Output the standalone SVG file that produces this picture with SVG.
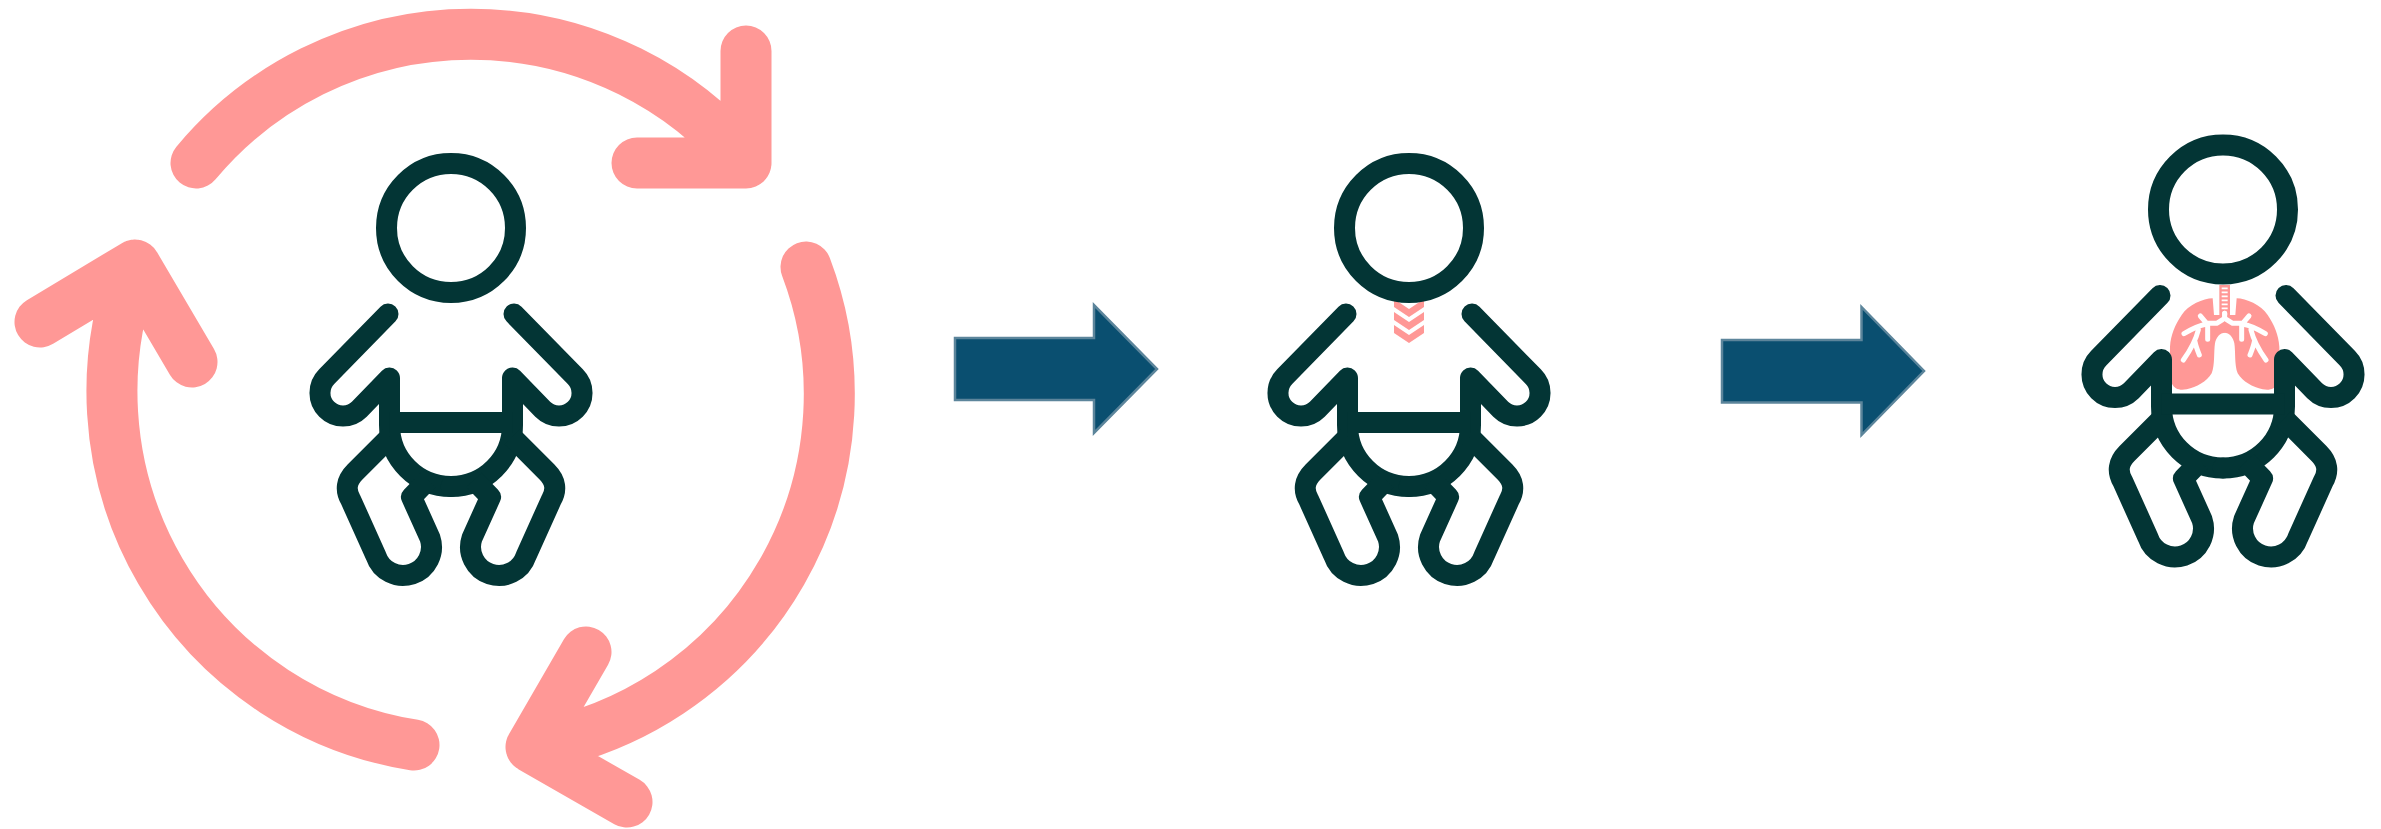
<svg xmlns="http://www.w3.org/2000/svg" width="2381" height="829" viewBox="0 0 2381 829">
<style>
.c{fill:none;stroke:#FF9896;stroke-width:51;stroke-linecap:round;stroke-linejoin:round}
.b{fill:none;stroke:#033535;stroke-width:21;stroke-linecap:round;stroke-linejoin:round}
.f{stroke-linecap:butt}
.a{fill:#0A4F70;stroke:#5C859B;stroke-width:2.5}
.p{fill:#FF9896}
.w{fill:none;stroke:#fff;stroke-width:15;stroke-linecap:round;stroke-linejoin:round}
</style>
<defs>
<g id="half">
<path class="b" d="M388 314L326.700 376.700A23 23 0 0 0 359.300 409.300L389.500 378V425A61.500 61.500 0 0 0 451 486.500"/>
<path class="b f" d="M390 437L355 472Q342 485 350.800 500L376 556A28 28 0 0 0 430 538L411.500 497L428 480"/>
</g>
<g id="baby">
<circle class="b" cx="451" cy="228" r="64.500"/>
<use href="#half"/>
<use href="#half" transform="translate(902 0) scale(-1 1)"/>
<path class="b f" d="M389.500 422.500H512.500"/>
</g>
<g id="lunghalf">
<path class="p" d="M143 55C115 55 70 75 50 105C30 135 17 165 15 200C14 240 18 280 20 310C28 328 45 332 65 328C95 322 125 305 140 280C150 255 146 215 150 190C153 172 165 158 180 158V105H147Z"/>
<path class="w" d="M179 100V115L155 130H125L106 108M125 132C95 138 75 150 57 161M128 135V178M100 150C95 170 80 205 55 240M90 185C93 200 98 212 103 225"/>
</g>
</defs>
<g id="cycle">
<path class="c" d="M196 163A358 358 0 0 1 746 163M746 51V163H637"/>
<path class="c" d="M806 267A358 358 0 0 1 531 747M586 652L531 747L627 802"/>
<path class="c" d="M414 745A358 358 0 0 1 135 265M40 322L135 265L192 362"/>
</g>
<g id="baby1"><use href="#baby"/></g>
<g id="chevrons" class="p">
<path d="M1394 299L1409 309L1424 299V307L1409 317L1394 307Z"/>
<path d="M1394 312L1409 322L1424 312V320L1409 330L1394 320Z"/>
<path d="M1394 325L1409 335L1424 325V333L1409 343L1394 333Z"/>
</g>
<g id="baby2"><use href="#baby" transform="translate(958 0)"/></g>
<g id="lungs" transform="translate(2165 280) scale(.33333)">
<rect class="p" x="163" y="15" width="32" height="92"/>
<path stroke="#fff" stroke-width="5" d="M170 25H188M170 37H188M170 49H188M170 61H188M170 73H188M170 85H188"/>
<use href="#lunghalf"/>
<use href="#lunghalf" transform="translate(358 0) scale(-1 1)"/>
</g>
<g id="baby3"><use href="#baby" transform="translate(1772 -18.500)"/></g>
<g id="connectors">
<polygon id="arrow1" class="a" points="955,338 1094,338 1094,305 1157,369 1094,433 1094,400 955,400"/>
<polygon id="arrow2" class="a" points="1722,340 1861.500,340 1861.500,307 1924,371 1861.500,435 1861.500,402.500 1722,402.500"/>
</g>
</svg>
